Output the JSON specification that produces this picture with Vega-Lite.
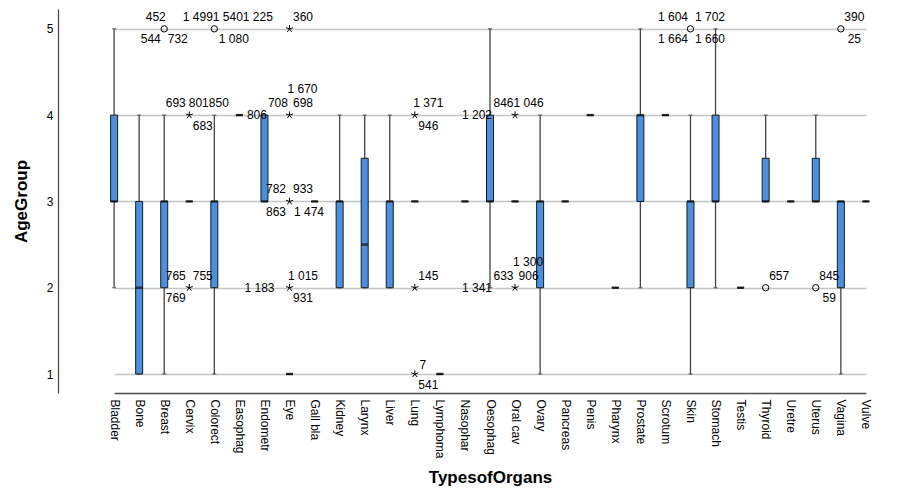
{
"$schema": "https://vega.github.io/schema/vega-lite/v6.json",
"width": 864,
"height": 384,
"autosize": {"type": "none"},
"padding": {"left": 58, "top": 9, "right": 0, "bottom": 95},
"background": "white",
"config": {
  "view": {"stroke": null},
  "font": "Liberation Sans",
  "axis": {"labelFont": "Liberation Sans", "titleFont": "Liberation Sans", "labelColor": "#000000", "titleColor": "#000000", "labelFontSize": 12, "titleFontSize": 17, "titleFontWeight": "bold", "ticks": false, "tickSize": 0, "domainColor": "#4d4d4d", "domainWidth": 1.3},
  "axisX": {"grid": false, "domain": false, "labelAngle": 90, "labelPadding": 6, "titlePadding": 12},
  "axisY": {"grid": true, "labelPadding": 5, "titlePadding": 16, "labelOverlap": false}
},
"datasets": {
  "boxes": [
    {"organ": "Bladder", "min": 2, "q1": 3, "median": 3, "q3": 4, "max": 5},
    {"organ": "Bone", "min": 1, "q1": 1, "median": 2, "q3": 3, "max": 4},
    {"organ": "Breast", "min": 1, "q1": 2, "median": 3, "q3": 3, "max": 4},
    {"organ": "Cervix", "min": 3, "q1": 3, "median": 3, "q3": 3, "max": 3},
    {"organ": "Colorect", "min": 1, "q1": 2, "median": 3, "q3": 3, "max": 4},
    {"organ": "Easophag", "min": 4, "q1": 4, "median": 4, "q3": 4, "max": 4},
    {"organ": "Endometr", "min": 3, "q1": 3, "median": 3, "q3": 4, "max": 4},
    {"organ": "Eye", "min": 1, "q1": 1, "median": 1, "q3": 1, "max": 1},
    {"organ": "Gall bla", "min": 3, "q1": 3, "median": 3, "q3": 3, "max": 3},
    {"organ": "Kidney", "min": 2, "q1": 2, "median": 3, "q3": 3, "max": 4},
    {"organ": "Larynx", "min": 2, "q1": 2, "median": 2.5, "q3": 3.5, "max": 4},
    {"organ": "Liver", "min": 2, "q1": 2, "median": 3, "q3": 3, "max": 4},
    {"organ": "Lung", "min": 3, "q1": 3, "median": 3, "q3": 3, "max": 3},
    {"organ": "Lymphoma", "min": 1, "q1": 1, "median": 1, "q3": 1, "max": 1},
    {"organ": "Nasophar", "min": 3, "q1": 3, "median": 3, "q3": 3, "max": 3},
    {"organ": "Oesophag", "min": 2, "q1": 3, "median": 3, "q3": 4, "max": 5},
    {"organ": "Oral cav", "min": 3, "q1": 3, "median": 3, "q3": 3, "max": 3},
    {"organ": "Ovary", "min": 1, "q1": 2, "median": 3, "q3": 3, "max": 4},
    {"organ": "Pancreas", "min": 3, "q1": 3, "median": 3, "q3": 3, "max": 3},
    {"organ": "Penis", "min": 4, "q1": 4, "median": 4, "q3": 4, "max": 4},
    {"organ": "Pharynx", "min": 2, "q1": 2, "median": 2, "q3": 2, "max": 2},
    {"organ": "Prostate", "min": 2, "q1": 3, "median": 4, "q3": 4, "max": 5},
    {"organ": "Scrotum", "min": 4, "q1": 4, "median": 4, "q3": 4, "max": 4},
    {"organ": "Skin", "min": 1, "q1": 2, "median": 3, "q3": 3, "max": 4},
    {"organ": "Stomach", "min": 2, "q1": 3, "median": 3, "q3": 4, "max": 5},
    {"organ": "Testis", "min": 2, "q1": 2, "median": 2, "q3": 2, "max": 2},
    {"organ": "Thyroid", "min": 3, "q1": 3, "median": 3, "q3": 3.5, "max": 4},
    {"organ": "Uretre", "min": 3, "q1": 3, "median": 3, "q3": 3, "max": 3},
    {"organ": "Uterus", "min": 3, "q1": 3, "median": 3, "q3": 3.5, "max": 4},
    {"organ": "Vagina", "min": 1, "q1": 2, "median": 3, "q3": 3, "max": 3},
    {"organ": "Vulve", "min": 3, "q1": 3, "median": 3, "q3": 3, "max": 3}
  ],
  "circles": [
    {"organ": "Breast", "value": 5},
    {"organ": "Colorect", "value": 5},
    {"organ": "Skin", "value": 5},
    {"organ": "Vagina", "value": 5},
    {"organ": "Thyroid", "value": 2},
    {"organ": "Uterus", "value": 2}
  ],
  "stars": [
    {"organ": "Cervix", "value": 4},
    {"organ": "Cervix", "value": 2},
    {"organ": "Eye", "value": 5},
    {"organ": "Eye", "value": 4},
    {"organ": "Eye", "value": 3},
    {"organ": "Eye", "value": 2},
    {"organ": "Lung", "value": 4},
    {"organ": "Lung", "value": 2},
    {"organ": "Lung", "value": 1},
    {"organ": "Oral cav", "value": 4},
    {"organ": "Oral cav", "value": 2}
  ],
  "lab_ur": [
    {"organ": "Eye", "value": 5, "label": "360"},
    {"organ": "Eye", "value": 4, "label": "698"},
    {"organ": "Lung", "value": 4, "label": "1 371"},
    {"organ": "Oral cav", "value": 4, "label": "1 046"},
    {"organ": "Lung", "value": 2, "label": "145"},
    {"organ": "Oral cav", "value": 2, "label": "906"},
    {"organ": "Eye", "value": 2, "label": "1 015"},
    {"organ": "Thyroid", "value": 2, "label": "657"},
    {"organ": "Uterus", "value": 2, "label": "845"},
    {"organ": "Vagina", "value": 5, "label": "390"},
    {"organ": "Eye", "value": 3, "label": "933"},
    {"organ": "Cervix", "value": 2, "label": "755"},
    {"organ": "Oesophag", "value": 4, "label": "846"},
    {"organ": "Oesophag", "value": 2, "label": "633"},
    {"organ": "Endometr", "value": 4, "label": "708"},
    {"organ": "Colorect", "value": 5, "label": "1 4991 5401 225"}
  ],
  "lab_ur2": [
    {"organ": "Skin", "value": 5, "label": "1 702"},
    {"organ": "Cervix", "value": 4, "label": "801850"}
  ],
  "lab_lr": [
    {"organ": "Lung", "value": 4, "label": "946"},
    {"organ": "Lung", "value": 1, "label": "541"},
    {"organ": "Eye", "value": 2, "label": "931"},
    {"organ": "Uterus", "value": 2, "label": "59"},
    {"organ": "Vagina", "value": 5, "label": "25"},
    {"organ": "Cervix", "value": 4, "label": "683"},
    {"organ": "Breast", "value": 5, "label": "732"}
  ],
  "lab_lr2": [
    {"organ": "Colorect", "value": 5, "label": "1 080"},
    {"organ": "Eye", "value": 3, "label": "1 474"},
    {"organ": "Skin", "value": 5, "label": "1 660"}
  ],
  "lab_ul": [
    {"organ": "Cervix", "value": 4, "label": "693"},
    {"organ": "Cervix", "value": 2, "label": "765"},
    {"organ": "Eye", "value": 3, "label": "782"}
  ],
  "lab_ul2": [
    {"organ": "Skin", "value": 5, "label": "1 604"}
  ],
  "lab_ul3": [
    {"organ": "Breast", "value": 5, "label": "452"}
  ],
  "lab_ll": [
    {"organ": "Breast", "value": 5, "label": "544"},
    {"organ": "Cervix", "value": 2, "label": "769"},
    {"organ": "Eye", "value": 3, "label": "863"}
  ],
  "lab_ll2": [
    {"organ": "Skin", "value": 5, "label": "1 664"}
  ],
  "lab_uu": [
    {"organ": "Eye", "value": 4, "label": "1 670"},
    {"organ": "Oral cav", "value": 2, "label": "1 300"}
  ],
  "lab_ml": [
    {"organ": "Oesophag", "value": 4, "label": "1 202"},
    {"organ": "Oesophag", "value": 2, "label": "1 341"}
  ],
  "lab_mr": [
    {"organ": "Easophag", "value": 4, "label": "806"}
  ],
  "lab_m2": [
    {"organ": "Endometr", "value": 2, "label": "1 183"}
  ],
  "lab_n7": [
    {"organ": "Lung", "value": 1, "label": "7"}
  ]
},
"encoding": {
  "x": {"field": "organ", "type": "nominal", "title": "TypesofOrgans",
    "scale": {"type": "point", "padding": 0, "range": [56.1, 807.9],
      "domain": ["Bladder", "Bone", "Breast", "Cervix", "Colorect", "Easophag", "Endometr", "Eye", "Gall bla", "Kidney", "Larynx", "Liver", "Lung", "Lymphoma", "Nasophar", "Oesophag", "Oral cav", "Ovary", "Pancreas", "Penis", "Pharynx", "Prostate", "Scrotum", "Skin", "Stomach", "Testis", "Thyroid", "Uretre", "Uterus", "Vagina", "Vulve"]}}
},
"layer": [
  {"data": {"name": "boxes"}, "mark": {"type": "rule", "color": "#444444", "strokeWidth": 1.3},
   "encoding": {"y": {"field": "min", "type": "quantitative", "title": "AgeGroup", "scale": {"domain": [0.78, 5.23], "nice": false, "zero": false},
     "axis": {"values": [0.78, 1, 2, 3, 4, 5], "labelExpr": "datum.value < 1 ? '' : format(datum.value, 'd')",
       "gridColor": {"condition": {"test": "datum.value < 1", "value": "#4d4d4d"}, "value": "#c4c4c4"},
       "gridWidth": {"condition": {"test": "datum.value < 1", "value": 1.3}, "value": 1.5}}}, "y2": {"field": "max"}}},
  {"data": {"name": "boxes"}, "mark": {"type": "tick", "color": "#444444", "size": 4, "thickness": 1.3},
   "encoding": {"y": {"field": "min", "type": "quantitative", "title": "AgeGroup", "scale": {"domain": [0.78, 5.23], "nice": false, "zero": false}}}},
  {"data": {"name": "boxes"}, "mark": {"type": "tick", "color": "#444444", "size": 4, "thickness": 1.3},
   "encoding": {"y": {"field": "max", "type": "quantitative", "title": "AgeGroup", "scale": {"domain": [0.78, 5.23], "nice": false, "zero": false}}}},
  {"data": {"name": "boxes"}, "mark": {"type": "bar", "width": 7, "fill": "#4a90e2", "stroke": "#1a1a1a", "strokeWidth": 1},
   "encoding": {"y": {"field": "q1", "type": "quantitative", "title": "AgeGroup", "scale": {"domain": [0.78, 5.23], "nice": false, "zero": false}}, "y2": {"field": "q3"}}},
  {"data": {"name": "boxes"}, "mark": {"type": "tick", "color": "#111111", "size": 7, "thickness": 2.5},
   "encoding": {"y": {"field": "median", "type": "quantitative", "title": "AgeGroup", "scale": {"domain": [0.78, 5.23], "nice": false, "zero": false}}}},
  {"data": {"name": "circles"}, "mark": {"type": "point", "shape": "circle", "filled": false, "stroke": "#000000", "strokeWidth": 1, "size": 40, "opacity": 1},
   "encoding": {"y": {"field": "value", "type": "quantitative", "title": "AgeGroup", "scale": {"domain": [0.78, 5.23], "nice": false, "zero": false}}}},
  {"data": {"name": "stars"}, "mark": {"type": "point", "shape": "M0,0L0,-1M0,0L0.951,-0.309M0,0L0.588,0.809M0,0L-0.588,0.809M0,0L-0.951,-0.309", "filled": false, "stroke": "#000000", "strokeWidth": 1, "size": 55, "opacity": 1},
   "encoding": {"y": {"field": "value", "type": "quantitative", "title": "AgeGroup", "scale": {"domain": [0.78, 5.23], "nice": false, "zero": false}}}},
  {"data": {"name": "lab_ur"}, "mark": {"type": "text", "align": "center", "baseline": "middle", "fontSize": 12, "dx": 13.5, "dy": -12, "color": "#000000"},
   "encoding": {"y": {"field": "value", "type": "quantitative", "title": "AgeGroup", "scale": {"domain": [0.78, 5.23], "nice": false, "zero": false}}, "text": {"field": "label"}}},
  {"data": {"name": "lab_ur2"}, "mark": {"type": "text", "align": "center", "baseline": "middle", "fontSize": 12, "dx": 19.5, "dy": -12, "color": "#000000"},
   "encoding": {"y": {"field": "value", "type": "quantitative", "title": "AgeGroup", "scale": {"domain": [0.78, 5.23], "nice": false, "zero": false}}, "text": {"field": "label"}}},
  {"data": {"name": "lab_lr"}, "mark": {"type": "text", "align": "center", "baseline": "middle", "fontSize": 12, "dx": 13.5, "dy": 10.5, "color": "#000000"},
   "encoding": {"y": {"field": "value", "type": "quantitative", "title": "AgeGroup", "scale": {"domain": [0.78, 5.23], "nice": false, "zero": false}}, "text": {"field": "label"}}},
  {"data": {"name": "lab_lr2"}, "mark": {"type": "text", "align": "center", "baseline": "middle", "fontSize": 12, "dx": 19.5, "dy": 10.5, "color": "#000000"},
   "encoding": {"y": {"field": "value", "type": "quantitative", "title": "AgeGroup", "scale": {"domain": [0.78, 5.23], "nice": false, "zero": false}}, "text": {"field": "label"}}},
  {"data": {"name": "lab_ul"}, "mark": {"type": "text", "align": "center", "baseline": "middle", "fontSize": 12, "dx": -13.5, "dy": -12, "color": "#000000"},
   "encoding": {"y": {"field": "value", "type": "quantitative", "title": "AgeGroup", "scale": {"domain": [0.78, 5.23], "nice": false, "zero": false}}, "text": {"field": "label"}}},
  {"data": {"name": "lab_ul2"}, "mark": {"type": "text", "align": "center", "baseline": "middle", "fontSize": 12, "dx": -17.5, "dy": -12, "color": "#000000"},
   "encoding": {"y": {"field": "value", "type": "quantitative", "title": "AgeGroup", "scale": {"domain": [0.78, 5.23], "nice": false, "zero": false}}, "text": {"field": "label"}}},
  {"data": {"name": "lab_ul3"}, "mark": {"type": "text", "align": "center", "baseline": "middle", "fontSize": 12, "dx": -8.5, "dy": -12, "color": "#000000"},
   "encoding": {"y": {"field": "value", "type": "quantitative", "title": "AgeGroup", "scale": {"domain": [0.78, 5.23], "nice": false, "zero": false}}, "text": {"field": "label"}}},
  {"data": {"name": "lab_ll"}, "mark": {"type": "text", "align": "center", "baseline": "middle", "fontSize": 12, "dx": -13.5, "dy": 10.5, "color": "#000000"},
   "encoding": {"y": {"field": "value", "type": "quantitative", "title": "AgeGroup", "scale": {"domain": [0.78, 5.23], "nice": false, "zero": false}}, "text": {"field": "label"}}},
  {"data": {"name": "lab_ll2"}, "mark": {"type": "text", "align": "center", "baseline": "middle", "fontSize": 12, "dx": -17.5, "dy": 10.5, "color": "#000000"},
   "encoding": {"y": {"field": "value", "type": "quantitative", "title": "AgeGroup", "scale": {"domain": [0.78, 5.23], "nice": false, "zero": false}}, "text": {"field": "label"}}},
  {"data": {"name": "lab_uu"}, "mark": {"type": "text", "align": "center", "baseline": "middle", "fontSize": 12, "dx": 13, "dy": -26, "color": "#000000"},
   "encoding": {"y": {"field": "value", "type": "quantitative", "title": "AgeGroup", "scale": {"domain": [0.78, 5.23], "nice": false, "zero": false}}, "text": {"field": "label"}}},
  {"data": {"name": "lab_ml"}, "mark": {"type": "text", "align": "center", "baseline": "middle", "fontSize": 12, "dx": -13, "dy": 0, "color": "#000000"},
   "encoding": {"y": {"field": "value", "type": "quantitative", "title": "AgeGroup", "scale": {"domain": [0.78, 5.23], "nice": false, "zero": false}}, "text": {"field": "label"}}},
  {"data": {"name": "lab_mr"}, "mark": {"type": "text", "align": "center", "baseline": "middle", "fontSize": 12, "dx": 17.5, "dy": 0, "color": "#000000"},
   "encoding": {"y": {"field": "value", "type": "quantitative", "title": "AgeGroup", "scale": {"domain": [0.78, 5.23], "nice": false, "zero": false}}, "text": {"field": "label"}}},
  {"data": {"name": "lab_m2"}, "mark": {"type": "text", "align": "center", "baseline": "middle", "fontSize": 12, "dx": -5, "dy": 0, "color": "#000000"},
   "encoding": {"y": {"field": "value", "type": "quantitative", "title": "AgeGroup", "scale": {"domain": [0.78, 5.23], "nice": false, "zero": false}}, "text": {"field": "label"}}},
  {"data": {"name": "lab_n7"}, "mark": {"type": "text", "align": "center", "baseline": "middle", "fontSize": 12, "dx": 8, "dy": -9, "color": "#000000"},
   "encoding": {"y": {"field": "value", "type": "quantitative", "title": "AgeGroup", "scale": {"domain": [0.78, 5.23], "nice": false, "zero": false}}, "text": {"field": "label"}}}
]
}
